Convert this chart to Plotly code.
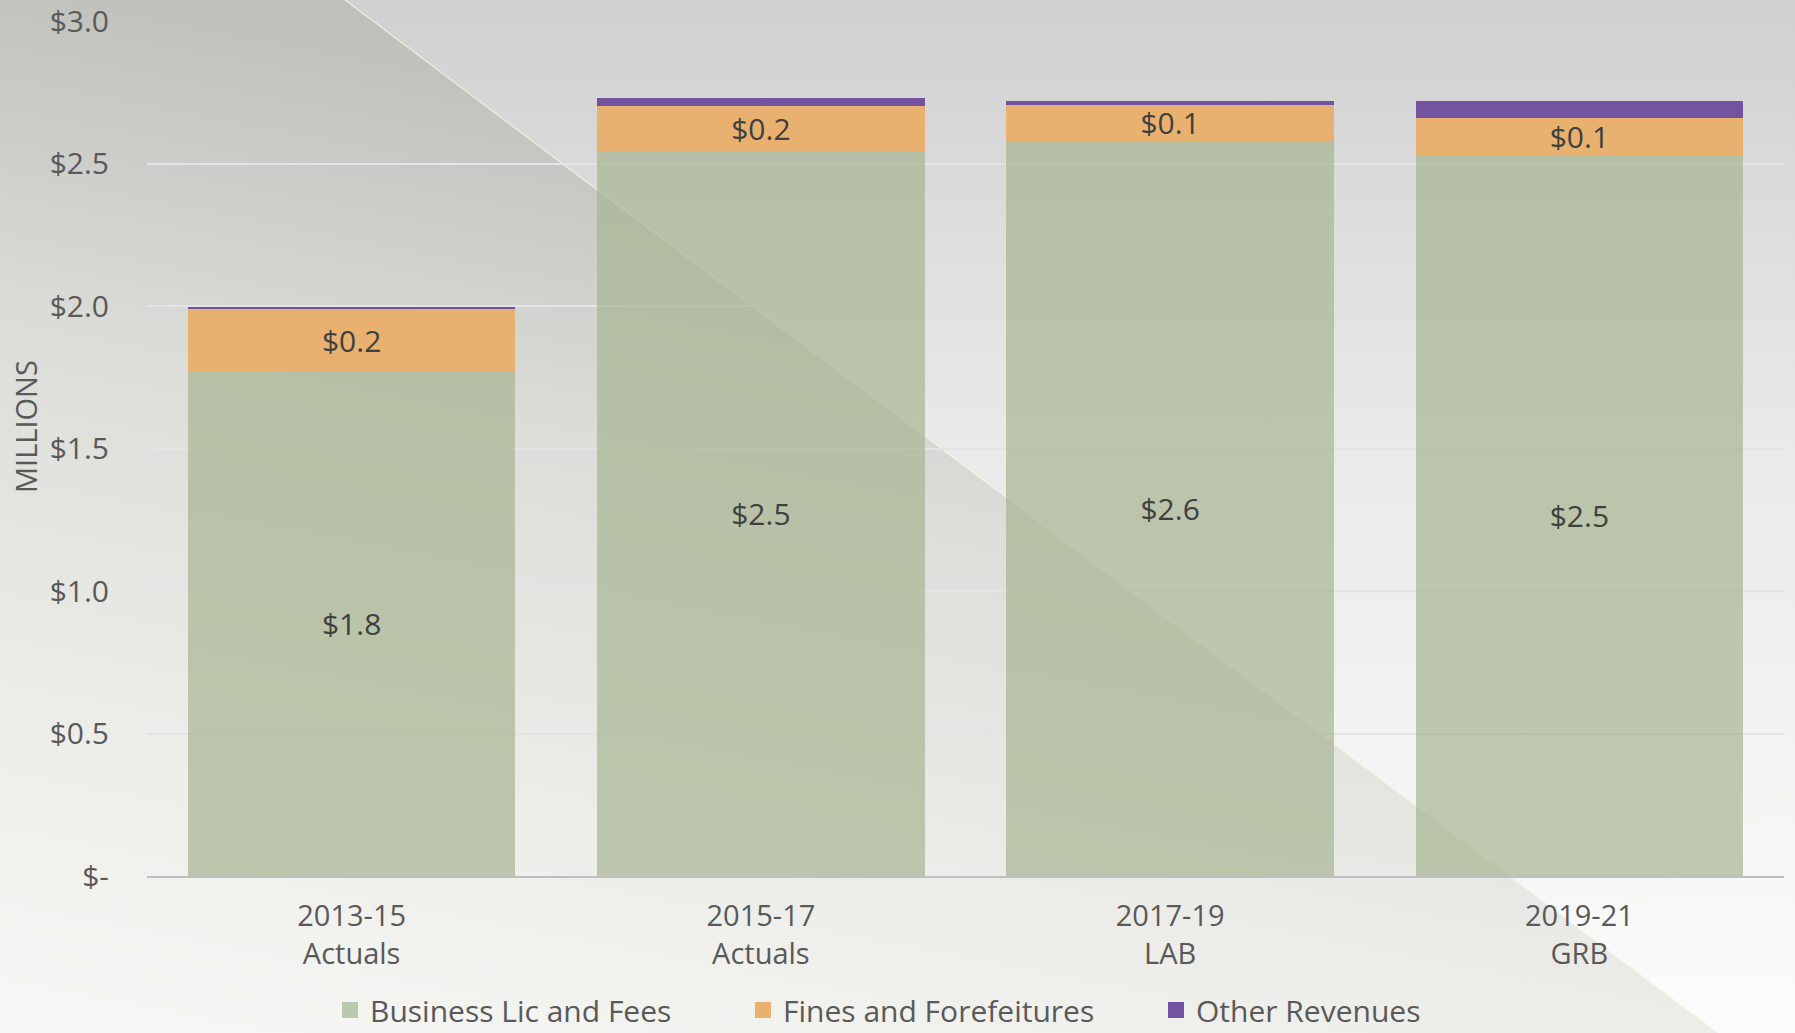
import base64
import plotly.graph_objects as go

# ---- data (millions of dollars) ----
categories = ["2013-15<br>Actuals", "2015-17<br>Actuals", "2017-19<br>LAB", "2019-21<br>GRB"]
business_lic_fees = [1.77, 2.545, 2.58, 2.53]
fines_forfeitures = [0.22, 0.157, 0.125, 0.13]
other_revenues = [0.005, 0.029, 0.014, 0.06]
series_names = ["Business Lic and Fees", "Fines and Forefeitures", "Other Revenues"]
y_tick_vals = [0, 0.5, 1.0, 1.5, 2.0, 2.5, 3.0]
y_tick_text = ["$-", "$0.5", "$1.0", "$1.5", "$2.0", "$2.5", "$3.0"]

W, H = 1795, 1033
ML, MR, MT, MB = 147, 11, 21, 157
PW, PH = W - ML - MR, H - MT - MB

FONT = "'Open Sans', Lato, sans-serif"
FS = 30
TXT = "#595959"
LBL = "#404040"
GREEN = "rgba(165,181,145,0.7)"
GREEN_LEG = "#bac8ae"
ORANGE = "#e9b16f"
PURPLE = "#7352a0"

svg = f"""<svg xmlns='http://www.w3.org/2000/svg' width='{W}' height='{H}' viewBox='0 0 {W} {H}' preserveAspectRatio='none'>
<defs>
<linearGradient id='r' x1='0' y1='0' x2='0' y2='{H}' gradientUnits='userSpaceOnUse'>
<stop offset='0' stop-color='#d0d0d0'/><stop offset='0.42' stop-color='#e9e9e9'/><stop offset='1' stop-color='#fcfcfc'/>
</linearGradient>
<linearGradient id='l' x1='200' y1='0' x2='0' y2='{H}' gradientUnits='userSpaceOnUse'>
<stop offset='0' stop-color='#bfbfbb'/><stop offset='0.34' stop-color='#dcdcd8'/><stop offset='0.69' stop-color='#ececE8'/><stop offset='1' stop-color='#f7f7f5'/>
</linearGradient>
</defs>
<rect x='0' y='0' width='{W}' height='{H}' fill='url(#r)'/>
<polygon points='0,0 345,0 1718,{H} 0,{H}' fill='url(#l)'/>
<line x1='345' y1='0' x2='1718' y2='{H}' stroke='#f6f6e2' stroke-width='1.2' opacity='0.8'/>
<line x1='1450' y1='{H}' x2='{W}' y2='787' stroke='#f3f3d8' stroke-width='1' opacity='0.8'/>
</svg>"""
bg_uri = "data:image/svg+xml;base64," + base64.b64encode(svg.encode()).decode()

fig = go.Figure()

fig.add_trace(go.Bar(
    x=categories, y=business_lic_fees, name=series_names[0],
    marker=dict(color=GREEN, line=dict(width=0)),
    text=[f"${v:.1f}" for v in business_lic_fees],
    textposition="inside", insidetextanchor="middle", textangle=0,
    constraintext="none", insidetextfont=dict(family=FONT, size=FS, color=LBL),
    showlegend=False, hoverinfo="skip",
))
fig.add_trace(go.Bar(
    x=categories, y=fines_forfeitures, name=series_names[1],
    marker=dict(color=ORANGE, line=dict(width=0)),
    text=[f"${v:.1f}" for v in fines_forfeitures],
    textposition="inside", insidetextanchor="middle", textangle=0,
    constraintext="none", insidetextfont=dict(family=FONT, size=FS, color=LBL),
    showlegend=False, hoverinfo="skip",
))
fig.add_trace(go.Bar(
    x=categories, y=other_revenues, name=series_names[2],
    marker=dict(color=PURPLE, line=dict(width=0)),
    textposition="none",
    showlegend=False, hoverinfo="skip",
))

# legend entries with larger square swatches
for nm, col in zip(series_names, [GREEN_LEG, ORANGE, PURPLE]):
    fig.add_trace(go.Scatter(
        x=[None], y=[None], mode="markers", name=nm,
        marker=dict(symbol="square", size=16, color=col),
        showlegend=True,
    ))

fig.update_layout(
    width=W, height=H,
    barmode="stack", bargap=0.2,
    margin=dict(l=ML, r=MR, t=MT, b=MB, autoexpand=False),
    paper_bgcolor="#ffffff", plot_bgcolor="rgba(0,0,0,0)",
    font=dict(family=FONT, size=FS, color=TXT),
    images=[dict(
        source=bg_uri, xref="paper", yref="paper",
        x=-ML / PW, y=1 + MT / PH, sizex=W / PW, sizey=H / PH,
        xanchor="left", yanchor="top", sizing="stretch", layer="below",
    )],
    xaxis=dict(
        showgrid=False, showline=True, linecolor="#bfbfbf", linewidth=2,
        ticks="", tickfont=dict(family=FONT, size=29, color=TXT),
        ticklabelstandoff=13, zeroline=False,
    ),
    yaxis=dict(
        range=[0, 3], tickvals=y_tick_vals, ticktext=y_tick_text,
        showgrid=True, gridcolor="#e4e4e4", gridwidth=2,
        zeroline=False, showline=False, ticks="",
        tickfont=dict(family=FONT, size=FS, color=TXT),
        ticklabelstandoff=37, ticklabeloverflow="allow",
    ),
    legend=dict(
        orientation="h", xref="container", yref="container",
        x=330 / W, xanchor="left", y=1 - 1010 / H, yanchor="middle",
        font=dict(family=FONT, size=FS, color=TXT),
        bgcolor="rgba(0,0,0,0)", itemsizing="trace", traceorder="normal",
        entrywidth=368, entrywidthmode="pixels",
    ),
    annotations=[dict(
        text="MILLIONS", textangle=-90, xref="paper", yref="paper",
        x=(25 - ML) / PW, y=1 - (427 - MT) / PH, xanchor="center", yanchor="middle",
        showarrow=False, font=dict(family=FONT, size=29, color=TXT),
    )],
)

fig.write_html(
    "out.html",
    config={"displayModeBar": False},
    post_script="document.body.style.margin='0';document.body.style.padding='0';document.body.style.overflow='hidden';",
)
